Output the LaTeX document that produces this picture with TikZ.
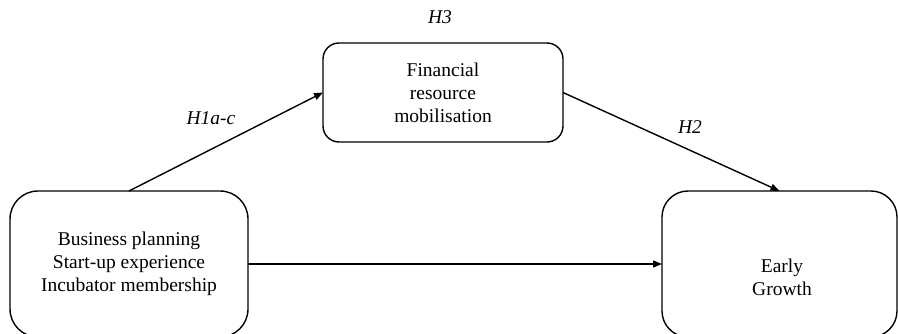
\documentclass[tikz,border=0pt]{standalone}
\usepackage{fontspec}
\setmainfont{Liberation Serif}
\usetikzlibrary{arrows.meta}
\begin{document}
\begin{tikzpicture}[x=1pt,y=-1pt,
  box/.style={draw=black, line width=1.4pt, align=center, inner sep=0pt, outer sep=0pt,
    font=\fontsize{19.5}{23}\selectfont},
  txt/.style={align=center, inner sep=0pt, font=\fontsize{19.5}{23}\selectfont},
  hyp/.style={inner sep=0pt, font=\fontsize{19.5}{23}\selectfont\itshape},
  conn/.style={line width=1.4pt, -{Triangle[length=9pt,width=7pt]}}]
\useasboundingbox (0,0) rectangle (898,334);
\clip (0,0) rectangle (898,334);
\node[box, minimum width=238pt, minimum height=146pt, rounded corners=28pt] (bp) at (129,264)
  {Business planning\\Start-up experience\\Incubator membership};
\node[box, minimum width=240pt, minimum height=99pt, rounded corners=16pt] (frm) at (443,92.5)
  {Financial\\resource\\mobilisation};
\node[box, minimum width=235pt, minimum height=146pt, rounded corners=26pt] (eg) at (779.5,264) {};
\node[txt] (egt) at (782,277) {Early\\Growth};
\draw[conn] (bp.north) -- (frm.west);
\draw[conn] (frm.east) -- (eg.north);
\draw[conn] (bp.east) -- (eg.west);
\node[hyp] (h3) at (440,17) {H3};
\node[hyp] (h1) at (211,118) {H1a-c};
\node[hyp] (h2) at (690,127) {H2};
\end{tikzpicture}
\end{document}
